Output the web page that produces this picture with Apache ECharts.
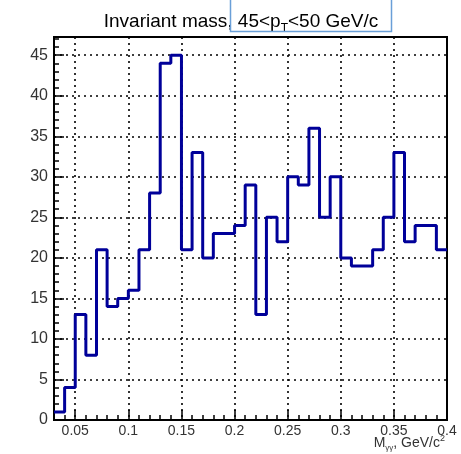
<!DOCTYPE html>
<html>
<head>
<meta charset="utf-8">
<script src="https://cdn.jsdelivr.net/npm/echarts@6/dist/echarts.min.js"></script>
<style>
  html, body { margin: 0; padding: 0; background: #fff; }
  #chart { width: 461px; height: 454px; }
</style>
</head>
<body>
<div id="chart"></div>
<script>
// Histogram of the di-photon invariant mass, bin width 0.01 GeV/c^2
const binLow = 0.03;
const binWidth = 0.01;
const counts = [1, 4, 13, 8, 21, 14, 15, 16, 21, 28, 44, 45, 21, 33, 20, 23, 23,
                24, 29, 13, 25, 22, 30, 29, 36, 25, 30, 20, 19, 19, 21, 25, 33,
                22, 24, 24, 21];
const xMajorTicks = [0.05, 0.1, 0.15, 0.2, 0.25, 0.3, 0.35, 0.4];
const xMin = 0.03, xMax = 0.4;
const yMax = 47.25;

// step outline points: each bin's left edge with its count, closed at the last right edge
const outline = counts.map((c, i) => [+(binLow + i * binWidth).toFixed(2), c]);
outline.push([+(binLow + counts.length * binWidth).toFixed(2), counts[counts.length - 1]]);

const FONT = '"Liberation Sans", Arial, Helvetica, sans-serif';
const dotted = { color: '#000', width: 1.6, type: [2, 4] };

const chart = echarts.init(document.getElementById('chart'), null, { renderer: 'canvas' });
chart.setOption({
  animation: false,
  backgroundColor: '#fff',
  grid: {
    left: 54, right: 14, top: 37, bottom: 34,
    show: true, borderColor: '#000', borderWidth: 2, backgroundColor: 'transparent'
  },
  title: {
    text: 'Invariant mass, 45<p{s|T}<50 GeV/c',
    left: 236, top: 3, textAlign: 'center',
    textStyle: {
      fontFamily: FONT, fontSize: 19, fontWeight: 'normal', color: '#000',
      rich: { s: { fontFamily: FONT, fontSize: 12, padding: [15, 0, 0, 0], color: '#000' } }
    }
  },
  xAxis: [
    { // minor ticks every bin
      type: 'value', min: xMin, max: xMax, interval: binWidth, position: 'bottom',
      axisLine: { show: true, lineStyle: { color: '#000', width: 2 } },
      axisTick: { show: true, inside: true, length: 5, lineStyle: { color: '#000', width: 1.5 } },
      axisLabel: { show: false }, splitLine: { show: false }
    },
    { // major ticks, labels and dotted grid
      type: 'value', min: xMin, max: xMax, position: 'bottom',
      axisLine: { show: true, lineStyle: { color: '#000', width: 2 } },
      axisTick: { show: true, inside: true, length: 10, customValues: xMajorTicks,
                  lineStyle: { color: '#000', width: 1.5 } },
      axisLabel: { show: true, customValues: xMajorTicks, margin: 4,
                   fontFamily: FONT, fontSize: 14, color: '#333',
                   formatter: v => String(+v.toFixed(2)) },
      splitLine: { show: true, lineStyle: dotted }
    }
  ],
  yAxis: [
    { // minor ticks every count
      type: 'value', min: 0, max: yMax, interval: 1, position: 'left',
      axisLine: { show: true, lineStyle: { color: '#000', width: 2 } },
      axisTick: { show: true, inside: true, length: 5, lineStyle: { color: '#000', width: 1.5 } },
      axisLabel: { show: false }, splitLine: { show: false }
    },
    { // major ticks, labels and dotted grid
      type: 'value', min: 0, max: yMax, interval: 5, position: 'left',
      axisLine: { show: true, lineStyle: { color: '#000', width: 2 } },
      axisTick: { show: true, inside: true, length: 10, lineStyle: { color: '#000', width: 1.5 } },
      axisLabel: { show: true, margin: 6, fontFamily: FONT, fontSize: 16, color: '#333',
                   showMaxLabel: false,
                   formatter: v => (Math.abs(v % 5) < 1e-9 ? String(v) : '') },
      splitLine: { show: true, lineStyle: dotted, showMaxLine: false }
    }
  ],
  series: [{
    type: 'line',
    xAxisIndex: 1, yAxisIndex: 1,
    step: 'end',
    data: outline,
    showSymbol: false,
    symbol: 'none',
    lineStyle: { color: '#000099', width: 3 },
    z: 5
  }],
  graphic: [
    {
      type: 'rect', z: 100,
      shape: { x: 230.5, y: -2, width: 161, height: 33.5 },
      style: { fill: 'none', stroke: '#6a9fd8', lineWidth: 1.5 }
    },
    {
      type: 'text', z: 100, x: 445, y: 443,
      style: {
        text: 'M{sub|γγ}, GeV/c{sup|2}',
        align: 'right', verticalAlign: 'middle',
        font: '14px ' + FONT, fill: '#333',
        rich: {
          sub: { fontFamily: FONT, fontSize: 8, padding: [9, 0, 0, 0], fill: '#333' },
          sup: { fontFamily: FONT, fontSize: 9, padding: [0, 0, 9, 0], fill: '#333' }
        }
      }
    }
  ]
});
</script>
</body>
</html>
